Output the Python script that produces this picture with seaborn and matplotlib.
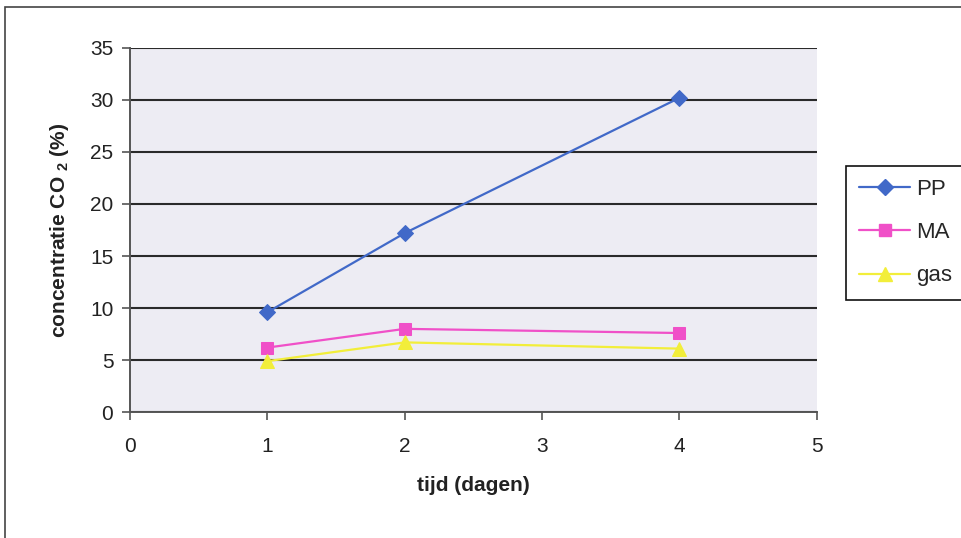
import matplotlib
matplotlib.use("Agg")
import matplotlib.pyplot as plt
from matplotlib.patches import Rectangle
from matplotlib.lines import Line2D
import pandas as pd
import seaborn as sns

# Measurements of CO2 concentration over storage time
days = [1, 2, 4]
pp = [9.6, 17.2, 30.2]
ma = [6.2, 8.0, 7.6]
gas = [4.9, 6.7, 6.1]
series_names = ["PP", "MA", "gas"]
x_ticks = [0, 1, 2, 3, 4, 5]
y_ticks = [0, 5, 10, 15, 20, 25, 30, 35]

sns.set_theme(style="white")
plt.rcParams["font.family"] = ["Liberation Sans", "DejaVu Sans"]
plt.rcParams["mathtext.fontset"] = "custom"
plt.rcParams["mathtext.rm"] = "Liberation Sans"
plt.rcParams["mathtext.bf"] = "Liberation Sans:bold"

df = pd.DataFrame({
    "tijd": days * 3,
    "co2": pp + ma + gas,
    "serie": [s for s in series_names for _ in days],
})

colors = {"PP": "#4169C8", "MA": "#F050C8", "gas": "#F2EE3A"}
markers = {"PP": "D", "MA": "s", "gas": "^"}
msizes = {"PP": 8, "MA": 9, "gas": 10}

fig = plt.figure(figsize=(9.61, 5.38), dpi=100)
ax = fig.add_axes([0.1353, 0.234, 0.7147, 0.677])
ax.set_facecolor("#EDECF3")

for name in series_names:
    sub = df[df["serie"] == name]
    sns.lineplot(data=sub, x="tijd", y="co2", ax=ax, color=colors[name],
                 marker=markers[name], markersize=msizes[name],
                 markeredgecolor=colors[name], linewidth=1.6, legend=False,
                 zorder=3)

ax.set_xlim(0, 5)
ax.set_ylim(0, 35)
ax.set_xticks(x_ticks)
ax.set_yticks(y_ticks)
ax.set_xticklabels([str(t) for t in x_ticks], fontsize=15, color="#222222")
ax.set_yticklabels([str(t) for t in y_ticks], fontsize=15, color="#222222")
ax.tick_params(axis="both", direction="out", length=6, width=1.2,
               color="#555555", bottom=True, left=True)
ax.tick_params(axis="x", pad=12)
ax.tick_params(axis="y", pad=6)

ax.yaxis.grid(True, color="#2a2a2a", linewidth=1.5)
ax.xaxis.grid(False)
ax.set_axisbelow(True)
for side in ["top", "right"]:
    ax.spines[side].set_visible(False)
for side in ["left", "bottom"]:
    ax.spines[side].set_color("#555555")
    ax.spines[side].set_linewidth(1.4)

ax.set_xlabel("tijd (dagen)", fontsize=15, fontweight="bold", labelpad=14,
              color="#222222")
ax.set_ylabel(r"concentratie CO $\mathbf{_2}$ (%)", fontsize=15,
              fontweight="bold", labelpad=14, color="#222222")

handles = [Line2D([0], [0], color=colors[n], marker=markers[n],
                  markersize=msizes[n], markeredgecolor=colors[n],
                  linewidth=1.6) for n in series_names]
leg = fig.legend(handles, series_names, loc="upper left",
                 bbox_to_anchor=(0.880, 0.692), frameon=True, fontsize=16,
                 handlelength=2.3, handletextpad=0.25, labelspacing=1.0,
                 borderpad=0.6, borderaxespad=0.0, fancybox=False,
                 framealpha=1)
leg.get_frame().set_edgecolor("#111111")
leg.get_frame().set_linewidth(1.2)

# outer chart border
fig.add_artist(Rectangle((0.0052, -0.05), 1.1, 0.05 + 0.987, fill=False,
                         edgecolor="#444444", linewidth=1.2,
                         transform=fig.transFigure, clip_on=False))

fig.savefig("out.png", dpi=100)
